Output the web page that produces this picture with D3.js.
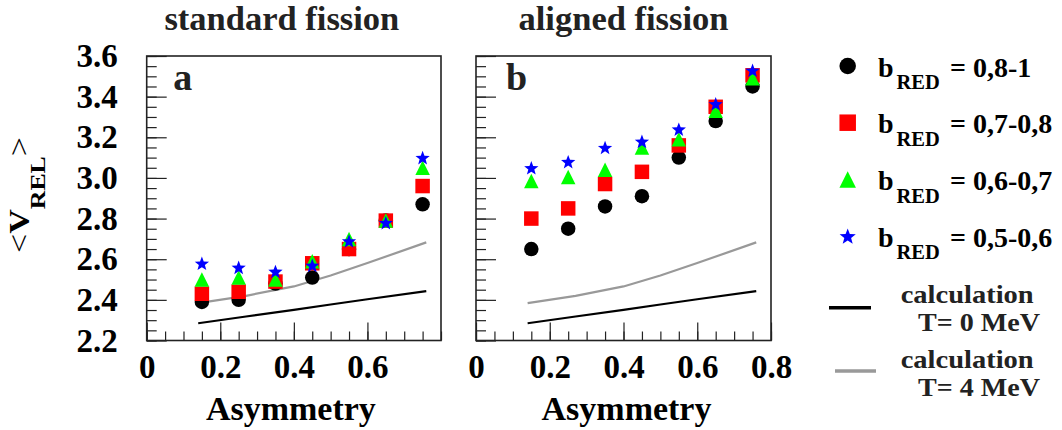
<!DOCTYPE html>
<html><head><meta charset="utf-8">
<script src="https://cdn.jsdelivr.net/npm/d3@7"></script>
<style>
body{margin:0;background:#fff}
svg{display:block}
</style>
</head><body>
<svg id="c" width="1062" height="430" font-family="'Liberation Serif', Tinos, 'Times New Roman', Times, 'DejaVu Serif', serif" font-weight="bold"></svg>
<script>
// ---------------- data ----------------
const asym = [0.15, 0.25, 0.35, 0.45, 0.55, 0.65, 0.75];
// standard fission (panel a)
const circA = [2.39, 2.40, 2.48, 2.51, 2.65, 2.79, 2.87];
const sqA   = [2.43, 2.44, 2.49, 2.58, 2.65, 2.79, 2.96];
const triA  = [2.50, 2.51, 2.50, 2.59, 2.70, 2.79, 3.05];
const starA = [2.58, 2.56, 2.54, 2.57, 2.69, 2.78, 3.10];
// aligned fission (panel b)
const circB = [2.65, 2.75, 2.86, 2.91, 3.10, 3.28, 3.45];
const sqB   = [2.80, 2.85, 2.97, 3.03, 3.16, 3.35, 3.505];
const triB  = [2.985, 3.005, 3.04, 3.15, 3.19, 3.33, 3.49];
const starB = [3.05, 3.08, 3.15, 3.18, 3.24, 3.365, 3.53];
// calculations
const calcX  = [0.14, 0.27, 0.40, 0.50, 0.60, 0.76];
const calcT0 = [2.285, 2.318, 2.351, 2.377, 2.403, 2.443];
const calcT4 = [2.384, 2.420, 2.466, 2.520, 2.581, 2.683];
// ticks / labels
const yTicks = [2.2, 2.4, 2.6, 2.8, 3.0, 3.2, 3.4, 3.6];
const xTicksA = [0, 0.2, 0.4, 0.6];
const xTicksB = [0, 0.2, 0.4, 0.6, 0.8];
const panelTitles = ["standard fission", "aligned fission"];
const panelLetters = ["a", "b"];
const legendLabels = ["= 0,8-1", "= 0,7-0,8", "= 0,6-0,7", "= 0,5-0,6"];
const calcLabels = [["calculation", "T= 0 MeV"], ["calculation", "T= 4 MeV"]];

const colors = {circle:"#000000", square:"#ff0000", triangle:"#00ff00", star:"#0000ff"};
const FONT = "'Liberation Serif', Tinos, 'Times New Roman', Times, 'DejaVu Serif', serif";
const svg = d3.select("#c");

const y = d3.scaleLinear().domain([2.2, 3.6]).range([340.5, 56]);
const xA = d3.scaleLinear().domain([0, 0.8]).range([146.7, 441]);
const xB = d3.scaleLinear().domain([0, 0.8]).range([476, 771]);

function markerPath(type, s) {
  const h = s / 2;
  if (type === "circle") return d3.symbol(d3.symbolCircle, Math.PI * h * h)();
  if (type === "square") return `M${-h},${-h}H${h}V${h}H${-h}Z`;
  if (type === "triangle") return `M0,${-h}L${h},${h}L${-h},${h}Z`;
  const R = h, r = h * 0.42, pts = [];
  for (let i = 0; i < 10; i++) {
    const a = -Math.PI / 2 + i * Math.PI / 5, rr = i % 2 ? r : R;
    pts.push([rr * Math.cos(a), rr * Math.sin(a) + h * 0.1]);
  }
  return "M" + pts.map(p => p.join(",")).join("L") + "Z";
}

function styleAxis(a) {
  a.attr("font-family", FONT).attr("font-weight", "bold");
  a.select(".domain").remove();
  a.selectAll("line").attr("stroke", "#222").attr("stroke-width", 1.2);
  a.selectAll("text").attr("font-size", 33).attr("fill", "#000");
}

function drawPanel(x, series, xTicks, showYLabels, letter, title) {
  const g = svg.append("g");
  const [x0, x1] = x.range(), [y0, y1] = y.range();

  const yMinor = d3.range(2.2, 3.6001, 0.05).map(v => +v.toFixed(2));
  g.append("g").attr("transform", `translate(${x0},0)`)
    .call(d3.axisLeft(y).tickValues(yMinor).tickSizeInner(-10).tickSizeOuter(0).tickFormat(""))
    .call(styleAxis);
  g.append("g").attr("transform", `translate(${x0},0)`)
    .call(d3.axisLeft(y).tickValues(yTicks).tickSizeInner(-20).tickSizeOuter(0).tickPadding(29)
      .tickFormat(showYLabels ? d3.format(".1f") : ""))
    .call(styleAxis);

  const xMinor = d3.range(0, 0.8001, 0.05).map(v => +v.toFixed(2));
  g.append("g").attr("transform", `translate(0,${y0})`)
    .call(d3.axisBottom(x).tickValues(xMinor).tickSizeInner(-9).tickSizeOuter(0).tickFormat(""))
    .call(styleAxis);
  g.append("g").attr("transform", `translate(0,${y0})`)
    .call(d3.axisBottom(x).tickValues(xTicks).tickSizeInner(-18).tickSizeOuter(0).tickPadding(14)
      .tickFormat(d => d === 0 ? "0" : d3.format(".1f")(d)))
    .call(styleAxis);

  g.append("rect").attr("x", x0).attr("y", y1).attr("width", x1 - x0).attr("height", y0 - y1)
    .attr("fill", "none").attr("stroke", "#222").attr("stroke-width", 1.6);

  const line = d3.line().x((d, i) => x(calcX[i])).y(d => y(d));
  g.append("path").datum(calcT0).attr("d", line).attr("fill", "none").attr("stroke", "#000").attr("stroke-width", 2.2);
  g.append("path").datum(calcT4).attr("d", line).attr("fill", "none").attr("stroke", "#999").attr("stroke-width", 2.2);

  series.forEach(([type, vals]) => {
    g.append("g").selectAll("path").data(vals).join("path")
      .attr("transform", (d, i) => `translate(${x(asym[i])},${y(d)})`)
      .attr("d", markerPath(type, type === "star" ? 15 : 14.5))
      .attr("fill", colors[type]);
  });

  g.append("text").attr("x", x0 + (letter === "a" ? 26.6 : 30)).attr("y", 89.5)
    .attr("font-size", 38).attr("fill", "#222").text(letter);

  g.append("text").attr("x", (x0 + x1) / 2 - (letter === "a" ? 12 : 0)).attr("y", 30)
    .attr("text-anchor", "middle").attr("font-size", 34.5).attr("fill", "#222").text(title);

  g.append("text").attr("x", (x0 + x1) / 2 - (letter === "a" ? 3 : -3)).attr("y", 420)
    .attr("text-anchor", "middle").attr("font-size", 34).text("Asymmetry");
}

drawPanel(xA, [["circle", circA], ["square", sqA], ["triangle", triA], ["star", starA]], xTicksA, true, panelLetters[0], panelTitles[0]);
drawPanel(xB, [["circle", circB], ["square", sqB], ["triangle", triB], ["star", starB]], xTicksB, false, panelLetters[1], panelTitles[1]);

// y axis title
const yt = svg.append("text").attr("text-anchor", "middle").attr("font-size", 29);
yt.append("tspan").attr("font-weight", "normal").text("<");
yt.append("tspan").text("V");
yt.append("tspan").attr("font-size", 22).attr("dy", 16).text("REL");
yt.append("tspan").attr("font-weight", "normal").attr("dy", -16).text(">");
const w = yt.node().getBBox().width;
yt.attr("transform", `translate(29,195) rotate(-90) scale(${116 / w},1)`);

// legend
const legTypes = ["circle", "square", "triangle", "star"];
const lg = svg.append("g");
legTypes.forEach((t, i) => {
  const cy = 66 + i * 56.7;
  lg.append("path").attr("transform", `translate(847.7,${cy})`)
    .attr("d", markerPath(t, t === "star" ? 17 : 16.5)).attr("fill", colors[t]);
  const tx = lg.append("text").attr("font-size", 28);
  tx.append("tspan").attr("x", 878).attr("y", cy + 10.7).text("b");
  tx.append("tspan").attr("x", 896.5).attr("y", cy + 23.3).attr("font-size", 20.5).text("RED");
  tx.append("tspan").attr("x", 950).attr("y", cy + 10.7).text(legendLabels[i]);
});
const calcLeg = [{x1: 829, x2: 871, y: 307.7, c: "#000", ty: 302.5}, {x1: 835, x2: 876, y: 371, c: "#999", ty: 367.5}];
calcLeg.forEach((d, i) => {
  lg.append("line").attr("x1", d.x1).attr("x2", d.x2).attr("y1", d.y).attr("y2", d.y)
    .attr("stroke", d.c).attr("stroke-width", 3.5);
  lg.append("text").attr("x", 900.7).attr("y", d.ty).attr("font-size", 25).attr("fill", "#222")
    .attr("textLength", 133).attr("lengthAdjust", "spacingAndGlyphs").text(calcLabels[i][0]);
  lg.append("text").attr("x", 918).attr("y", d.ty + 28).attr("font-size", 25).attr("fill", "#222")
    .attr("textLength", 122).attr("lengthAdjust", "spacingAndGlyphs").text(calcLabels[i][1]);
});
</script>
</body></html>
